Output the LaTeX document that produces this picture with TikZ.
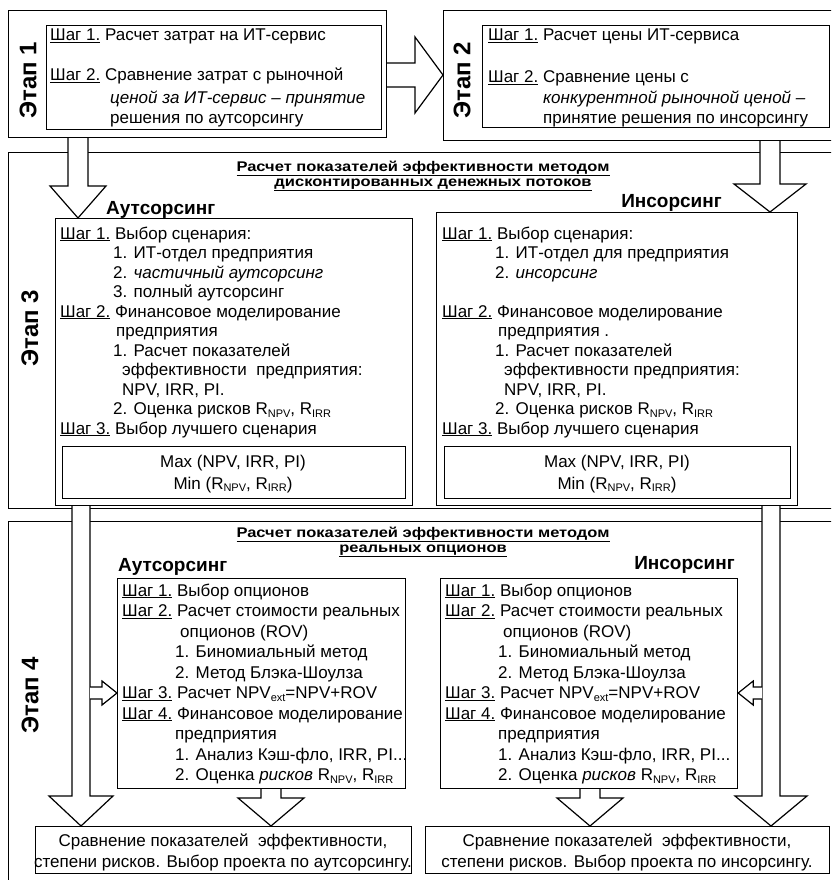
\documentclass[tikz,border=0pt]{standalone}
\usepackage{graphicx}
\usepackage{fontspec}
\setmainfont{Liberation Sans}
\usetikzlibrary{calc}
\newcommand\lidx[1]{\raisebox{-0.3ex}{\fontsize{11}{11}\selectfont #1}}
\newcommand\step[1]{\underline{Шаг #1.}}
\newcommand\ttltext[1]{\scalebox{1}[0.85]{\underline{#1}}}
\tikzset{
  box/.style={draw, line width=1.2pt},
  txt/.style={anchor=base west, inner sep=0pt, font=\fontsize{17}{20}\selectfont},
  ctxt/.style={anchor=base, inner sep=0pt, font=\fontsize{17}{20}\selectfont},
  stagelbl/.style={rotate=90, inner sep=0pt, font=\bfseries\fontsize{24}{24}\selectfont},
  ttl/.style={anchor=base, inner sep=0pt, font=\bfseries\fontsize{16.5}{16.5}\selectfont},
  side/.style={inner sep=0pt, font=\bfseries\fontsize{19}{19}\selectfont},
  blk/.style={draw, fill=white, line width=1.2pt, line join=miter},
}
\newcommand\rbox[5]{\node[box, anchor=north west, inner sep=0pt,
  minimum width={(#4-#2)*1pt}, minimum height={(#5-#3)*1pt}] (#1) at (#2,#3) {};}
% block arrows: start coord, tip coord, shaft half width, head half width, head length
\newcommand\arrdown[5]{\filldraw[blk] let \p1=(#1), \p2=(#2) in
  (\x1-#3pt,\y1) -- (\x1-#3pt,\y2+#5pt) -- (\x1-#4pt,\y2+#5pt) -- (\x1,\y2)
  -- (\x1+#4pt,\y2+#5pt) -- (\x1+#3pt,\y2+#5pt) -- (\x1+#3pt,\y1);}
\newcommand\arrright[5]{\filldraw[blk] let \p1=(#1), \p2=(#2) in
  (\x1,\y1+#3pt) -- (\x2-#5pt,\y1+#3pt) -- (\x2-#5pt,\y1+#4pt) -- (\x2,\y1)
  -- (\x2-#5pt,\y1-#4pt) -- (\x2-#5pt,\y1-#3pt) -- (\x1,\y1-#3pt);}
\newcommand\arrleft[5]{\filldraw[blk] let \p1=(#1), \p2=(#2) in
  (\x1,\y1+#3pt) -- (\x2+#5pt,\y1+#3pt) -- (\x2+#5pt,\y1+#4pt) -- (\x2,\y1)
  -- (\x2+#5pt,\y1-#4pt) -- (\x2+#5pt,\y1-#3pt) -- (\x1,\y1-#3pt);}
\begin{document}
\begin{tikzpicture}[x=1pt,y=-1pt]
\useasboundingbox (0,0) rectangle (831,880);
\clip (0,0) rectangle (831,880);
\fill[white] (0,0) rectangle (831,880);

% ---------- Stage 1 ----------
\rbox{s1o}{8}{10}{386}{137}
\rbox{s1i}{46}{25}{381}{129}
\node[stagelbl] (l1) at (28,80) {Этап 1};
\node[txt] (t11) at (50,41) {\step{1} Расчет затрат на ИТ-сервис};
\node[txt] (t12) at (50,81) {\step{2} Сравнение затрат с рыночной};
\node[txt] (t13) at (110,103) {\itshape ценой за ИТ-сервис – принятие};
\node[txt] (t14) at (110,124) {решения по аутсорсингу};

% ---------- Stage 2 ----------
\rbox{s2o}{443}{10}{845}{140}
\rbox{s2i}{482}{25}{829}{127}
\node[stagelbl] (l2) at (462,80) {Этап 2};
\node[txt] (t21) at (488,41) {\step{1} Расчет цены ИТ-сервиса};
\node[txt] (t22) at (488,83) {\step{2} Сравнение цены с};
\node[txt] (t23) at (543,104) {\itshape конкурентной рыночной ценой –};
\node[txt] (t24) at (543,124) {принятие решения по инсорсингу};

% ---------- Stage 3 ----------
\rbox{s3o}{8}{152}{845}{508}
\node[stagelbl] (l3) at (30,328) {Этап 3};
\node[ttl] (h31) at (423,171) {\ttltext{Расчет показателей эффективности методом}};
\node[ttl] (h32) at (433,186) {\ttltext{дисконтированных денежных потоков}};
\node[side, anchor=base west] (o3) at (106,214) {Аутсорсинг};
\node[side, anchor=base east] (i3) at (722,207) {Инсорсинг};

\rbox{s3L}{55}{218}{412}{505}
\rbox{s3R}{436}{212}{797}{505}
\rbox{s3Lm}{62}{446}{405}{498}
\rbox{s3Rm}{444}{446}{790}{498}

\node[txt] (a1) at (60,239) {\step{1} Выбор сценария:};
\node[txt] (a2) at (113,258.5) {1. ИТ-отдел предприятия};
\node[txt] (a3) at (113,278) {2. \itshape частичный аутсорсинг};
\node[txt] (a4) at (113,297.5) {3. полный аутсорсинг};
\node[txt] (a5) at (60,317) {\step{2} Финансовое моделирование};
\node[txt] (a6) at (116,336.5) {предприятия};
\node[txt] (a7) at (113,356) {1. Расчет показателей};
\node[txt] (a8) at (122,375.5) {эффективности\ \ предприятия:};
\node[txt] (a9) at (122,395) {NPV, IRR, PI.};
\node[txt] (a10) at (113,414.5) {2. Оценка рисков R\lidx{NPV}, R\lidx{IRR}};
\node[txt] (a11) at (60,434) {\step{3} Выбор лучшего сценария};
\node[ctxt] (a12) at (233,467) {Max (NPV, IRR, PI)};
\node[ctxt] (a13) at (233,489) {Min (R\lidx{NPV}, R\lidx{IRR})};

\node[txt] (b1) at (442,239) {\step{1} Выбор сценария:};
\node[txt] (b2) at (495,258.5) {1. ИТ-отдел для предприятия};
\node[txt] (b3) at (495,278) {2. \itshape инсорсинг};
\node[txt] (b5) at (442,317) {\step{2} Финансовое моделирование};
\node[txt] (b6) at (498,336.5) {предприятия .};
\node[txt] (b7) at (495,356) {1. Расчет показателей};
\node[txt] (b8) at (504,375.5) {эффективности предприятия:};
\node[txt] (b9) at (504,395) {NPV, IRR, PI.};
\node[txt] (b10) at (495,414.5) {2. Оценка рисков R\lidx{NPV}, R\lidx{IRR}};
\node[txt] (b11) at (442,434) {\step{3} Выбор лучшего сценария};
\node[ctxt] (b12) at (617,467) {Max (NPV, IRR, PI)};
\node[ctxt] (b13) at (617,489) {Min (R\lidx{NPV}, R\lidx{IRR})};

% ---------- Stage 4 ----------
\rbox{s4o}{8}{521}{845}{900}
\node[stagelbl] (l4) at (30,695) {Этап 4};
\node[ttl] (h41) at (423,537) {\ttltext{Расчет показателей эффективности методом}};
\node[ttl] (h42) at (423,552) {\ttltext{реальных опционов}};
\node[side, anchor=base west] (o4) at (118,571) {Аутсорсинг};
\node[side, anchor=base east] (i4) at (735,569) {Инсорсинг};

\rbox{s4L}{117}{578}{405}{788}
\rbox{s4R}{440}{578}{737}{788}

\node[txt] (c1) at (122,596) {\step{1} Выбор опционов};
\node[txt] (c2) at (122,616.5) {\step{2} Расчет стоимости реальных};
\node[txt] (c3) at (180,637) {опционов (ROV)};
\node[txt] (c4) at (175,657.5) {1. Биномиальный метод};
\node[txt] (c5) at (175,678) {2. Метод Блэка-Шоулза};
\node[txt] (c6) at (122,698.5) {\step{3} Расчет NPV\lidx{ext}=NPV+ROV};
\node[txt] (c7) at (122,719) {\step{4} Финансовое моделирование};
\node[txt] (c8) at (175,739.5) {предприятия};
\node[txt] (c9) at (175,760) {1. Анализ Кэш-фло, IRR, PI...};
\node[txt] (c10) at (175,780.5) {2. Оценка {\itshape рисков} R\lidx{NPV}, R\lidx{IRR}};

\node[txt] (d1) at (445,596) {\step{1} Выбор опционов};
\node[txt] (d2) at (445,616.5) {\step{2} Расчет стоимости реальных};
\node[txt] (d3) at (503,637) {опционов (ROV)};
\node[txt] (d4) at (498,657.5) {1. Биномиальный метод};
\node[txt] (d5) at (498,678) {2. Метод Блэка-Шоулза};
\node[txt] (d6) at (445,698.5) {\step{3} Расчет NPV\lidx{ext}=NPV+ROV};
\node[txt] (d7) at (445,719) {\step{4} Финансовое моделирование};
\node[txt] (d8) at (498,739.5) {предприятия};
\node[txt] (d9) at (498,760) {1. Анализ Кэш-фло, IRR, PI...};
\node[txt] (d10) at (498,780.5) {2. Оценка {\itshape рисков} R\lidx{NPV}, R\lidx{IRR}};

% bottom result boxes
\rbox{r1}{35}{826}{411}{873}
\rbox{r2}{425}{826}{829}{873}
\node[ctxt] (r11) at (223,846) {Сравнение показателей\ \ эффективности,};
\node[ctxt] (r12) at (223,867) {степени рисков. Выбор проекта по аутсорсингу.};
\node[ctxt] (r21) at (627,846) {Сравнение показателей\ \ эффективности,};
\node[ctxt] (r22) at (627,867) {степени рисков. Выбор проекта по инсорсингу.};

% ---------- connectors (block arrows) ----------
\coordinate (p1s) at (s1o.east |- 0,75);
\coordinate (p1e) at (s2o.west |- 0,75);
\arrright{p1s}{p1e}{12}{38}{28}

\coordinate (p2s) at ($(s1o.south west)+(70,0)$);
\coordinate (p2e) at (p2s |- s3L.north);
\arrdown{p2s}{p2e}{10}{28}{32}

\coordinate (p3s) at ($(s2o.south west)+(327,0)$);
\coordinate (p3e) at (p3s |- s3R.north);
\arrdown{p3s}{p3e}{10}{36}{28}

\coordinate (p4s) at ($(s3L.south west)+(26,0)$);
\coordinate (p4e) at (p4s |- r1.north);
\arrdown{p4s}{p4e}{9}{32}{30}

\coordinate (p5s) at ($(s3R.south west)+(335,0)$);
\coordinate (p5e) at (p5s |- r2.north);
\arrdown{p5s}{p5e}{9}{36}{30}

\coordinate (p6s) at ($(s4L.south west)+(154,0)$);
\coordinate (p6e) at (p6s |- r1.north);
\arrdown{p6s}{p6e}{10}{33}{28}

\coordinate (p7s) at ($(s4R.south west)+(150,0)$);
\coordinate (p7e) at (p7s |- r2.north);
\arrdown{p7s}{p7e}{10}{33}{28}

\coordinate (p8e) at (s4L.west |- 0,693);
\coordinate (p8s) at ($(p4s |- p8e)+(9,0)$);
\arrright{p8s}{p8e}{6}{12}{15}

\coordinate (p9e) at (s4R.east |- 0,693);
\coordinate (p9s) at ($(p5s |- p9e)+(-9,0)$);
\arrleft{p9s}{p9e}{6}{12}{15}
\end{tikzpicture}
\end{document}
